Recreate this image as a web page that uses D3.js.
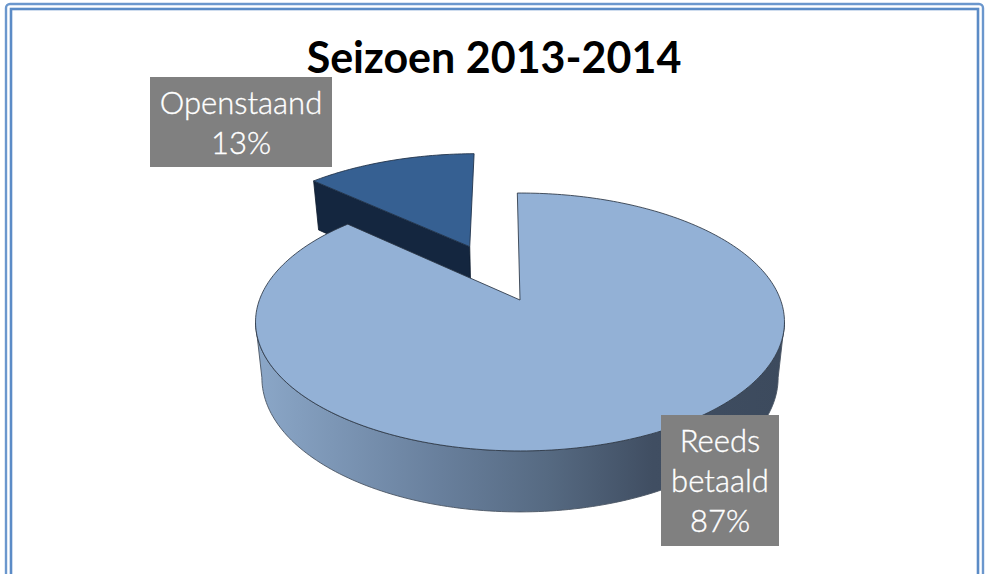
<!DOCTYPE html>
<html>
<head>
<meta charset="utf-8">
<script src="https://cdn.jsdelivr.net/npm/d3@7"></script>
<style>
html,body{margin:0;padding:0;background:#fff;overflow:hidden}
svg{display:block}
text{font-family:Lato,"Open Sans",sans-serif}
</style>
</head>
<body>
<div id="chart"></div>
<script>
var chartTitle = "Seizoen 2013-2014";
var categories = [["Reeds", "betaald"], ["Openstaand"]];
var shares = [87, 13];

var w = 987, h = 574;
var svg = d3.select("#chart").append("svg").attr("width", w).attr("height", h);

//pie lying flat, seen in perspective
var cx = 520, cy = 300;      //apex of the big slice
var radius = 260.6;
var k = 125.2;               //vertical squash
var persp = 0.1705;          //near side is bigger
var depth = 54.7, depthPersp = 0.1027, baseShrink = 0.976;
var explode = 0.49;          //slice pulled out, in pie radii
var rot = -0.012;

function project(u, v) {
    var d = 1 + persp * v;
    return [cx + radius * u / d, cy - k * v / d];
}
function projectBase(u, v) {
    var p = project(u, v);
    return [cx + (p[0] - cx) * baseShrink, p[1] + depth / (1 + depthPersp * v)];
}
function onRim(a, ox, oy, fn) {
    return fn(ox + Math.sin(a), oy + Math.cos(a));
}
var line = d3.line();
function samples(a0, a1) {
    var n = Math.max(2, Math.ceil(Math.abs(a1 - a0) / 0.02));
    return d3.range(n + 1).map(function (i) { return a0 + (a1 - a0) * i / n; });
}

var arcs = d3.pie().sort(null).startAngle(rot).endAngle(2 * Math.PI + rot)(shares);

//gradient of the outer wall
var grad = svg.append("defs").append("linearGradient").attr("id", "wallGrad")
    .attr("gradientUnits", "userSpaceOnUse").attr("x1", 256).attr("x2", 785).attr("y1", 0).attr("y2", 0);
grad.selectAll("stop").data([[0, "#8ba7c8"], [0.35, "#687f9c"], [0.55, "#566a82"], [0.75, "#404e62"], [1, "#3c4a5d"]])
    .enter().append("stop").attr("offset", function (d) { return d[0]; }).attr("stop-color", function (d) { return d[1]; });

//double frame, runs off the bottom
svg.append("rect").attr("x", 6).attr("y", 4).attr("width", 977).attr("height", 640).attr("rx", 4)
    .attr("fill", "none").attr("stroke", "#6b97cd").attr("stroke-width", 2.4);
svg.append("rect").attr("x", 11).attr("y", 9).attr("width", 967).attr("height", 640)
    .attr("fill", "none").attr("stroke", "#5b8bc6").attr("stroke-width", 2.6);

svg.append("text").attr("x", 494).attr("y", 73).attr("text-anchor", "middle")
    .attr("font-size", 43).attr("font-weight", 700).attr("fill", "#000").text(chartTitle);

//pulled out slice
var small = arcs[1];
var mid = (small.startAngle + small.endAngle) / 2;
var ox = explode * Math.sin(mid) - 0.008, oy = explode * Math.cos(mid) + 0.012;
var wall = [project(ox, oy), onRim(small.startAngle, ox, oy, project), onRim(small.startAngle, ox, oy, projectBase), projectBase(ox, oy)];
svg.append("path").attr("d", line(wall) + "Z").attr("fill", "#14263f")
    .attr("stroke", "#0d1a2c").attr("stroke-width", 0.8);
var smallTop = [project(ox, oy)].concat(samples(small.startAngle, small.endAngle).map(function (a) {
    return onRim(a, ox, oy, project);
}));
svg.append("path").attr("d", line(smallTop) + "Z").attr("fill", "#366092")
    .attr("stroke", "#22344c").attr("stroke-width", 0.9);

//big slice, outer wall then top
var big = arcs[0];
var leftSil = Math.atan2(-Math.sqrt(1 - persp * persp), -persp) + 2 * Math.PI;
var rightSil = Math.atan2(Math.sqrt(1 - persp * persp), -persp);
var wallAngles = samples(rightSil, leftSil);
var wallPts = wallAngles.map(function (a) { return onRim(a, 0, 0, project); })
    .concat(wallAngles.slice().reverse().map(function (a) { return onRim(a, 0, 0, projectBase); }));
svg.append("path").attr("d", line(wallPts) + "Z").attr("fill", "url(#wallGrad)")
    .attr("stroke", "#4a5563").attr("stroke-width", 0.9);
var bigTop = [project(0, 0)].concat(samples(big.startAngle, big.endAngle).map(function (a) {
    return onRim(a, 0, 0, project);
}));
svg.append("path").attr("d", line(bigTop) + "Z").attr("fill", "#93b1d6")
    .attr("stroke", "#2b3644").attr("stroke-width", 1).attr("stroke-opacity", 0.85);

//labels
var labelBoxes = [
    { x: 661, y: 415, w: 118, h: 131, first: 452 },
    { x: 150, y: 77, w: 182, h: 90, first: 114 }
];
labelBoxes.forEach(function (b, i) {
    svg.append("rect").attr("x", b.x).attr("y", b.y).attr("width", b.w).attr("height", b.h).attr("fill", "#808080");
    var lines = categories[i].concat([shares[i] + "%"]);
    svg.selectAll(".lab" + i).data(lines).enter().append("text")
        .attr("x", b.x + b.w / 2).attr("y", function (d, j) { return b.first + j * 40; })
        .attr("text-anchor", "middle").attr("font-size", 31).attr("font-weight", 300).attr("fill", "#fff")
        .attr("stroke", "#fff").attr("stroke-width", 0.35)
        .text(function (d) { return d; });
});
</script>
</body>
</html>
